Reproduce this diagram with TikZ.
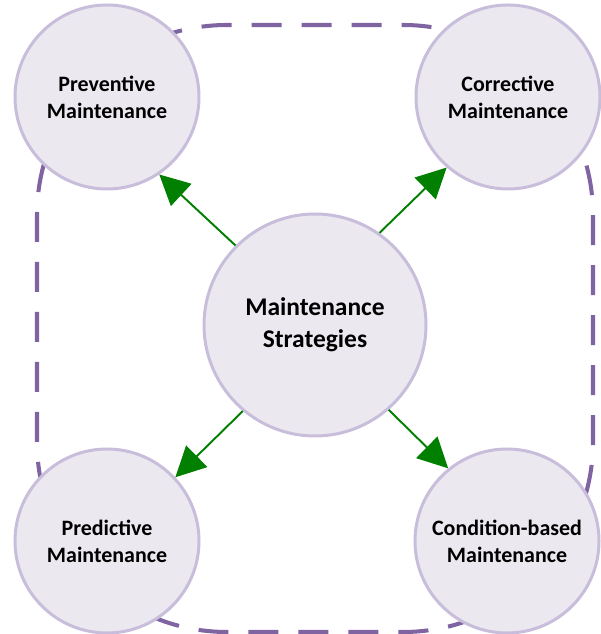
\documentclass[tikz,border=0pt]{standalone}
\usepackage{fontspec}
\setmainfont{Carlito}
\usetikzlibrary{arrows.meta, positioning}
\definecolor{frame_purple}{HTML}{8064A2}
\definecolor{bubble_fill}{HTML}{EBE8F0}
\definecolor{bubble_line}{HTML}{C8BDDA}
\definecolor{arrow_green}{HTML}{007F00}
\tikzset{
    strategy/.style={circle, draw=bubble_line, line width=1.7pt, fill=bubble_fill, align=center, minimum size=3.68cm, inner sep=0pt, font=\fontsize{12.5}{15.5}\selectfont\bfseries},
    hub/.style={strategy, minimum size=4.44cm, font=\fontsize{14.5}{18}\selectfont\bfseries},
    arrow/.style={draw=arrow_green, line width=1.1pt, -{Triangle[length=0.6cm, width=0.6cm]}}
}

\begin{document}
\begin{tikzpicture}
        \useasboundingbox (0,0) rectangle (12,12.68);

        % dashed frame behind the bubbles
        \draw[frame_purple, line width=2.3pt, dash pattern=on 0.6cm off 0.4cm, rounded corners=3.8cm] (0.74,0.04) rectangle (11.86,12.18);

        \node (Hub) [hub] at (6.30, 6.18) {Maintenance\\Strategies};

        \node (Prev) [strategy] at (2.14, 10.74) {Preventive\\Maintenance};
        \node (Corr) [strategy] at (10.16, 10.74) {Corrective\\Maintenance};
        \node (Pred) [strategy] at (2.14, 1.86) {Predictive\\Maintenance};
        \node (Cond) [strategy] at (10.14, 1.86) {Condition-based\\Maintenance};

        % Connect hub to strategies
        \draw[arrow] (Hub.135) -- (Prev.-56);
        \draw[arrow] (Hub.55) -- (Corr.-131);
        \draw[arrow] (Hub.-130) -- (Pred.43);
        \draw[arrow] (Hub.-49) -- (Cond.129);

    \end{tikzpicture}
\end{document}
